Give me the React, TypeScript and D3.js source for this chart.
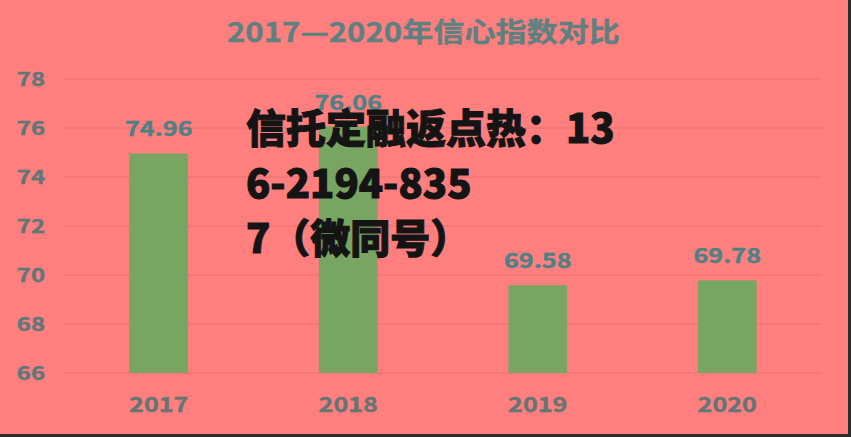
import { scaleBand, scaleLinear } from "d3";

const years = ["2017", "2018", "2019", "2020"];
const scores = [74.96, 76.06, 69.58, 69.78];
const yTicks = [66, 68, 70, 72, 74, 76, 78];
const titleText = "2017—2020年信心指数对比";
const overlayLines = ["信托定融返点热：13", "6-2194-835", "7（微同号）"];

const W = 851;
const H = 437;
const plot = { left: 64, right: 822, top: 79, bottom: 373 };

// the reference is stretched sideways, so chart text gets a wider scale
const stretch = 1.26;
const cjk = "'Noto Sans CJK SC', 'Noto Sans', sans-serif";

export default function App() {
  const x = scaleBand()
    .domain(years)
    .range([plot.left, plot.right])
    .paddingInner(0.69)
    .paddingOuter(0.345);

  const y = scaleLinear()
    .domain([66, 78])
    .range([plot.bottom, plot.top]);

  return (
    <svg
      width={W}
      height={H}
      style={{ position: "absolute", left: 0, top: 0, display: "block" }}
    >
      <rect width={W} height={H} fill="#FF7F7F" />

      {/* title */}
      <text
        x={227}
        y={42}
        textLength={393}
        lengthAdjust="spacingAndGlyphs"
        fontFamily={cjk}
        fontWeight={700}
        fontSize={27}
        fill="#5E8080"
        stroke="#5E8080"
        strokeWidth={0.4}
      >
        {titleText}
      </text>

      {/* grid lines */}
      {yTicks.map((t) => (
        <line
          key={`grid-${t}`}
          x1={plot.left}
          x2={plot.right}
          y1={y(t)}
          y2={y(t)}
          stroke="#EA7272"
          strokeWidth={1}
        />
      ))}

      {/* y axis labels */}
      {yTicks.map((t) => (
        <g key={`yl-${t}`} transform={`translate(45,${y(t)}) scale(${stretch},1)`}>
          <text
            x={0}
            dy="0.36em"
            textAnchor="end"
            fontFamily={cjk}
            fontWeight={700}
            fontSize={19}
            fill="#5F7777"
            stroke="#5F7777"
            strokeWidth={0.4}
          >
            {t}
          </text>
        </g>
      ))}

      {/* bars */}
      {years.map((yr, i) => (
        <rect
          key={`bar-${yr}`}
          x={x(yr)}
          y={y(scores[i])}
          width={x.bandwidth()}
          height={y(66) - y(scores[i])}
          fill="#78A562"
        />
      ))}

      {/* value labels */}
      {years.map((yr, i) => (
        <g
          key={`val-${yr}`}
          transform={`translate(${(x(yr) ?? 0) + x.bandwidth() / 2},${y(scores[i]) - 17}) scale(${stretch},1)`}
        >
          <text
            textAnchor="middle"
            fontFamily={cjk}
            fontWeight={700}
            fontSize={20}
            fill="#4E8084"
            stroke="#4E8084"
            strokeWidth={0.4}
          >
            {scores[i].toFixed(2)}
          </text>
        </g>
      ))}

      {/* x axis labels */}
      {years.map((yr) => (
        <g
          key={`xl-${yr}`}
          transform={`translate(${(x(yr) ?? 0) + x.bandwidth() / 2},412) scale(1.2,1)`}
        >
          <text
            textAnchor="middle"
            fontFamily={cjk}
            fontWeight={700}
            fontSize={21}
            fill="#667474"
            stroke="#667474"
            strokeWidth={0.4}
          >
            {yr}
          </text>
        </g>
      ))}

      {/* overlay text */}
      {overlayLines.map((line, i) => (
        <text
          key={`ov-${i}`}
          x={246}
          y={143 + i * 55}
          fontFamily={cjk}
          fontWeight={900}
          fontSize={40}
          fill="#141414"
          stroke="#141414"
          strokeWidth={1}
        >
          {line}
        </text>
      ))}

      {/* dark frame edge on right and bottom */}
      <line x1={W - 1.5} x2={W - 1.5} y1={0} y2={H} stroke="#2B2B2B" strokeWidth={3} />
      <line x1={0} x2={W} y1={H - 1.5} y2={H - 1.5} stroke="#2B2B2B" strokeWidth={3} />
    </svg>
  );
}
